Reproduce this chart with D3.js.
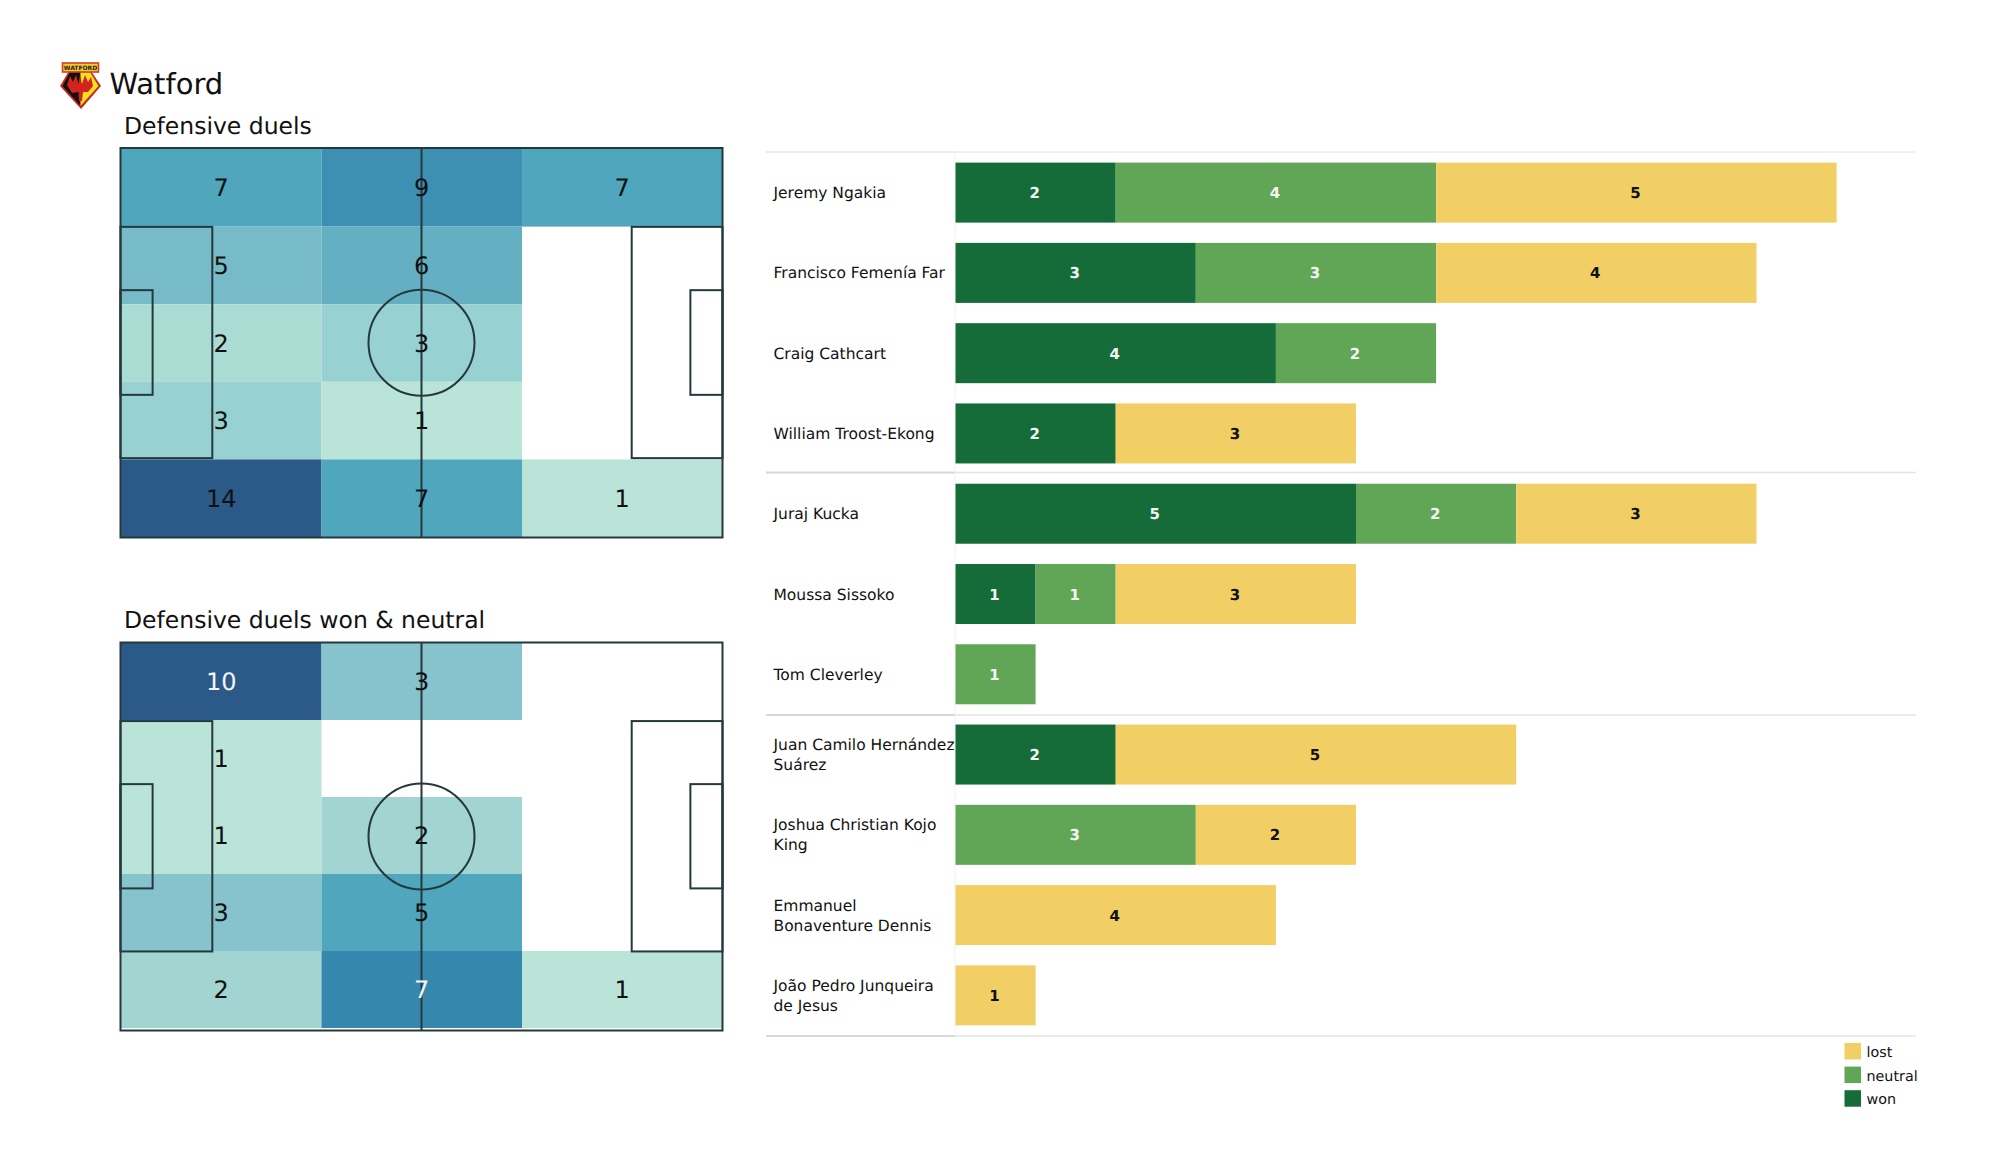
<!DOCTYPE html>
<html><head><meta charset="utf-8">
<script src="https://cdn.jsdelivr.net/npm/d3@7"></script>
<style>html,body{margin:0;padding:0;background:#fff}svg{display:block}text{font-family:"DejaVu Sans",sans-serif;text-rendering:geometricPrecision}</style>
</head><body><svg id="c" width="2000" height="1175"></svg>
<script>
const teamName = "Watford";
const pitchTitles = ["Defensive duels", "Defensive duels won & neutral"];
// rows top→bottom, columns left→right
const duelsGrid = [[7,9,7],[5,6,0],[2,3,0],[3,1,0],[14,7,1]];
const wonGrid = [[10,3,0],[1,0,0],[1,2,0],[3,5,0],[2,7,1]];
const players = ["Jeremy Ngakia","Francisco Femenía Far","Craig Cathcart","William Troost-Ekong","Juraj Kucka","Moussa Sissoko","Tom Cleverley","Juan Camilo Hernández\nSuárez","Joshua Christian Kojo\nKing","Emmanuel\nBonaventure Dennis","João Pedro Junqueira\nde Jesus"];
const won = [2,3,4,2,5,1,0,2,0,0,0];
const neutral = [4,3,2,0,2,1,1,0,3,0,0];
const lost = [5,4,0,3,3,3,0,5,2,4,1];
const seriesKeys = ["won","neutral","lost"];
const seriesColors = ["#156c38","#61a656","#f2cf65"];
const legendOrder = ["lost","neutral","won"];
const heatStops = [0.1,0.143,0.2,0.214,0.3,0.5,0.7,1];
const heatColors = ["#bbe4d9","#abdcd4","#a2d4d1","#98d1d1","#87c3cc","#50a6bd","#3587ad","#2c5a88"];

const svg = d3.select("#c");
const ink = "#111";

// Header
const logo = svg.append("g").attr("transform","translate(60,62)");
logo.append("path").attr("d","M0,24 L9,9 L31,9 L41,24 L21,47 Z").attr("fill","#c8281e");
logo.append("path").attr("d","M2.5,24 L10,10 L20.5,10 L20.5,44 Z").attr("fill","#111");
logo.append("path").attr("d","M20.5,10 L30,10 L38.5,24 L20.5,44 Z").attr("fill","#f7e01f");
logo.append("path").attr("d","M7,23 L10,14 L13,20 L16,13 L18.5,22 L20,13 L22,22 L25,13 L28,20 L31,15 L33,24 L28,30 L23,30 L22,39 L19,39 L18.5,30 L12,31 Z").attr("fill","#d2231e");
logo.append("rect").attr("x",2.5).attr("y",1).attr("width",36).attr("height",9).attr("fill","#f5c830").attr("stroke","#d0401c").attr("stroke-width",1.6);
logo.append("text").attr("x",20.5).attr("y",8).attr("text-anchor","middle").attr("font-size",6).attr("font-weight","bold").attr("fill","#222").text("WATFORD");
svg.append("text").attr("x",109.5).attr("y",94).attr("font-size",29).attr("fill",ink).text(teamName);

// Pitches
const heatColor = d3.scaleLinear().domain(heatStops).range(heatColors).clamp(true);
function pitch(top, bottom, fillTop, fillBottom, title, grid, titleY, lightFrom, textDy){
  const left=120.5,right=722.5;
  const x=d3.scaleLinear().domain([0,120]).range([left,right]);
  const y=d3.scaleLinear().domain([0,80]).range([top,bottom]);
  const g=svg.append("g");
  const max=d3.max(grid.flat());
  const colX=d3.scaleBand().domain([0,1,2]).range([121,722.5]);
  const rowY=d3.scaleBand().domain(d3.range(5)).range([fillTop,fillBottom]);
  grid.forEach((row,r)=>row.forEach((v,c)=>{
    if(!v) return;
    g.append("rect").attr("x",colX(c)).attr("y",rowY(r)).attr("width",colX.bandwidth()).attr("height",rowY.bandwidth()).attr("fill",heatColor(v/max));
  }));
  const line=g.append("g").attr("fill","none").attr("stroke","#24393b").attr("stroke-width",2);
  line.append("rect").attr("x",left).attr("y",top).attr("width",right-left).attr("height",bottom-top);
  line.append("line").attr("x1",x(60)).attr("x2",x(60)).attr("y1",top).attr("y2",bottom);
  line.append("circle").attr("cx",x(60)).attr("cy",y(40)).attr("r",53);
  [[0,18.3],[101.9,120]].forEach(([a,b])=>line.append("rect").attr("x",x(a)).attr("y",y(16.2)).attr("width",x(b)-x(a)).attr("height",y(63.7)-y(16.2)));
  [[0,6.4],[113.6,120]].forEach(([a,b])=>line.append("rect").attr("x",x(a)).attr("y",y(29.2)).attr("width",x(b)-x(a)).attr("height",y(50.7)-y(29.2)));
  grid.forEach((row,r)=>row.forEach((v,c)=>{
    if(!v) return;
    g.append("text").attr("x",colX(c)+colX.bandwidth()/2).attr("y",rowY(r)+rowY.bandwidth()/2+textDy)
      .attr("text-anchor","middle").attr("font-size",24)
      .attr("fill",v/max>=lightFrom?"#f4f4f4":ink).text(v);
  }));
  svg.append("text").attr("x",124).attr("y",titleY).attr("font-size",23.5).attr("fill",ink).text(title);
}
pitch(148,537.5,149,537,pitchTitles[0],duelsGrid,133.5,2,8.5);
pitch(642.5,1030.5,643,1028,pitchTitles[1],wonGrid,627.5,0.7,8);

// Bars
const xs=d3.scaleLinear().domain([0,5]).range([955.5,1356]);
const yb=d3.scaleBand().domain(d3.range(players.length)).range([152.5,1035.5]).paddingInner(0.2525).paddingOuter(0.126);
const rows=players.map((p,i)=>({won:won[i],neutral:neutral[i],lost:lost[i]}));
const stack=d3.stack().keys(seriesKeys)(rows);
const col=d3.scaleOrdinal().domain(seriesKeys).range(seriesColors);
const sepPos=[152,472.5,715,1036];
sepPos.forEach((py,i)=>{
  svg.append("line").attr("x1",766).attr("x2",955).attr("y1",py).attr("y2",py).attr("stroke","#d8d8d8").attr("stroke-width",i==0?1:2);
  svg.append("line").attr("x1",955).attr("x2",1916).attr("y1",py).attr("y2",py).attr("stroke","#e4e4e4").attr("stroke-width",i==0?1:1.5);
});
svg.append("line").attr("x1",955).attr("x2",955).attr("y1",152).attr("y2",1036).attr("stroke","#f2f2f2");
stack.forEach(s=>{
  s.forEach((d,i)=>{
    if(d[1]===d[0]) return;
    svg.append("rect").attr("x",xs(d[0])).attr("y",yb(i)).attr("width",xs(d[1])-xs(d[0])).attr("height",yb.bandwidth()).attr("fill",col(s.key));
    svg.append("text").attr("x",(xs(d[0])+xs(d[1]))/2-1).attr("y",yb(i)+yb.bandwidth()/2+5.5)
      .attr("text-anchor","middle").attr("font-size",15).attr("font-weight","bold")
      .attr("fill",s.key==="lost"?"#111":"#f4f4f4").text(d[1]-d[0]);
  });
});
players.forEach((p,i)=>{
  const ls=p.split("\n"), cy=yb(i)+yb.bandwidth()/2;
  ls.forEach((l,k)=>svg.append("text").attr("x",773.5).attr("y",cy+5.5+(k-(ls.length-1)/2)*20).attr("font-size",15.5).attr("fill",ink).text(l));
});

// Legend
legendOrder.forEach((k,i)=>{
  const ly=1043+i*23.6;
  svg.append("rect").attr("x",1844.5).attr("y",ly).attr("width",16.5).attr("height",16.5).attr("fill",col(k));
  svg.append("text").attr("x",1866.5).attr("y",ly+14).attr("font-size",14.3).attr("fill",ink).text(k);
});
</script></body></html>
